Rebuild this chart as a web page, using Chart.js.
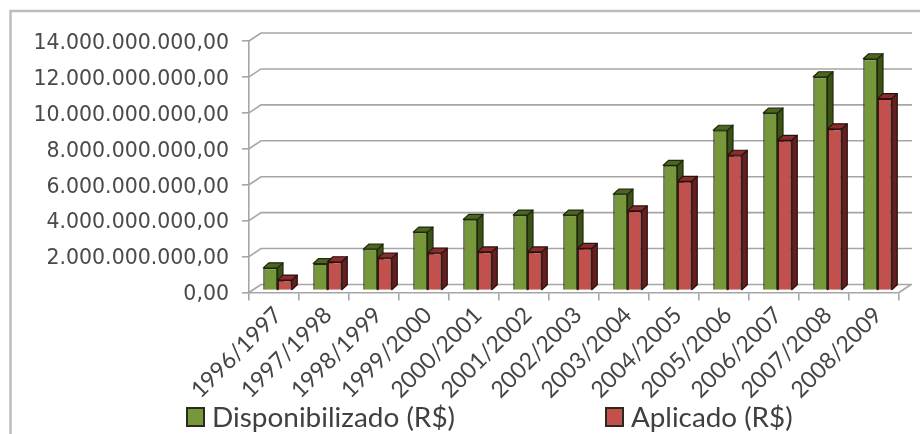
<!DOCTYPE html>
<html lang="pt-BR">
<head>
<meta charset="utf-8">
<title>Recursos disponibilizados e aplicados</title>
<script src="https://cdn.jsdelivr.net/npm/chart.js@4/dist/chart.umd.js"></script>
<style>
  html, body { margin: 0; padding: 0; background: #fff; }
  #wrap { position: relative; width: 920px; height: 434px; overflow: hidden; }
  canvas { display: block; }
  .key { position: absolute; top: 407px; height: 22px; white-space: nowrap; color: #404040;
         font: 27px "Lato", sans-serif; line-height: 20px; }
  .key i { position: absolute; left: 0; top: 0; width: 19px; height: 20px; box-sizing: border-box;
           border: 2px solid #2a2a1e; }
  .key span { position: absolute; left: 26px; top: 0; display: block; }
</style>
</head>
<body>
<div id="wrap">
  <canvas id="chart" width="920" height="434"></canvas>
</div>
<script>
// Safras e valores em reais
const safras = ["1996/1997", "1997/1998", "1998/1999", "1999/2000", "2000/2001", "2001/2002", "2002/2003",
                "2003/2004", "2004/2005", "2005/2006", "2006/2007", "2007/2008", "2008/2009"];
const disponibilizado = [1.26e9, 1.5e9, 2.3e9, 3.25e9, 3.96e9, 4.2e9, 4.2e9, 5.36e9, 6.97e9, 8.92e9, 9.88e9, 11.9e9, 12.9e9];
const aplicado = [0.58e9, 1.6e9, 1.8e9, 2.08e9, 2.15e9, 2.15e9, 2.34e9, 4.43e9, 6.08e9, 7.53e9, 8.36e9, 9.0e9, 10.68e9];

const formatoBR = v => v.toLocaleString("pt-BR", { minimumFractionDigits: 2, maximumFractionDigits: 2 });

// Profundidade da parede do fundo e das colunas
const WALL = { dx: 12, dy: 8 };
const COLUMN = { dx: 5.5, dy: 5 };
const SHIFT = { x: 3.5, y: -2 };
const GRID_COLOR = "#a6a6a6";

const paleta = [
  { face: "#76983a", side: "#3c5216", top: "#4c6620", line: "#1f2a0c" },
  { face: "#c2504c", side: "#65201e", top: "#8a2c2a", line: "#2c1010" }
];

// Moldura, parede do fundo e piso em perspectiva
const parede = {
  id: "parede",
  beforeDatasetsDraw(chart) {
    const { ctx, chartArea: a, scales: { y } } = chart;
    ctx.save();
    ctx.strokeStyle = "#bcbcbc";
    ctx.lineWidth = 2.5;
    ctx.beginPath();
    ctx.moveTo(10.5, chart.height);
    ctx.lineTo(10.5, 11);
    ctx.lineTo(chart.width, 11);
    ctx.stroke();

    ctx.strokeStyle = GRID_COLOR;
    ctx.lineWidth = 1.6;
    y.ticks.forEach(t => {
      const py = y.getPixelForValue(t.value);
      ctx.beginPath();
      ctx.moveTo(a.left, py);
      ctx.lineTo(a.left + WALL.dx, py - WALL.dy);
      ctx.lineTo(a.right + WALL.dx + 1, py - WALL.dy);
      ctx.stroke();
    });
    const base = y.getPixelForValue(0);
    ctx.beginPath();
    ctx.moveTo(a.right, base);
    ctx.lineTo(a.right + WALL.dx, base - WALL.dy);
    ctx.stroke();
    ctx.restore();
  },
  // As colunas são pintadas abaixo, por categoria, para que a vermelha cubra a lateral da verde
  beforeDatasetDraw() { return false; },
  afterDatasetsDraw(chart) {
    const ctx = chart.ctx;
    ctx.save();
    ctx.translate(SHIFT.x, SHIFT.y);
    safras.forEach((_, i) => {
      chart.data.datasets.forEach((ds, d) => {
        const bar = chart.getDatasetMeta(d).data[i];
        const { x, y, width } = bar.getProps(["x", "y", "width"], true);
        const { base } = bar.getProps(["base"], true);
        const cor = paleta[d];
        const l = x - width / 2, r = x + width / 2;
        ctx.lineWidth = 1.2;
        ctx.lineJoin = "round";
        ctx.strokeStyle = cor.line;
        ctx.fillStyle = cor.side;
        ctx.beginPath();
        ctx.moveTo(r, y);
        ctx.lineTo(r + COLUMN.dx, y - COLUMN.dy);
        ctx.lineTo(r + COLUMN.dx, base - COLUMN.dy);
        ctx.lineTo(r, base);
        ctx.closePath();
        ctx.fill();
        ctx.stroke();
        ctx.fillStyle = cor.top;
        ctx.beginPath();
        ctx.moveTo(l, y);
        ctx.lineTo(l + COLUMN.dx, y - COLUMN.dy);
        ctx.lineTo(r + COLUMN.dx, y - COLUMN.dy);
        ctx.lineTo(r, y);
        ctx.closePath();
        ctx.fill();
        ctx.stroke();
        bar.draw(ctx);
      });
    });
    ctx.restore();
  }
};

const grafico = new Chart(document.getElementById("chart"), {
  type: "bar",
  data: {
    labels: safras,
    datasets: [
      { label: "Disponibilizado (R$)", data: disponibilizado, backgroundColor: paleta[0].face,
        borderColor: paleta[0].line, borderWidth: 1.4 },
      { label: "Aplicado (R$)", data: aplicado, backgroundColor: paleta[1].face,
        borderColor: paleta[1].line, borderWidth: 1.4 }
    ]
  },
  options: {
    responsive: false,
    animation: false,
    layout: { padding: { left: 0, right: 21, top: 41, bottom: 0 } },
    datasets: { bar: { categoryPercentage: 0.57, barPercentage: 1 } },
    plugins: { legend: { display: false }, tooltip: { enabled: false } },
    scales: {
      x: {
        afterFit(s) { s.height = 141.5; },
        border: { color: GRID_COLOR, width: 1.6 },
        grid: { color: GRID_COLOR, lineWidth: 1.6, drawOnChartArea: false, tickLength: 8, offset: true },
        ticks: { color: "#454545", font: { family: "Lato", size: 23 }, minRotation: 45, maxRotation: 45,
                 padding: 1, labelOffset: 4, autoSkip: false }
      },
      y: {
        min: 0, max: 14e9,
        afterFit(s) { s.width = 249; },
        border: { color: GRID_COLOR, width: 1.6 },
        grid: { color: GRID_COLOR, lineWidth: 1.6, drawOnChartArea: false, tickLength: 7 },
        ticks: { stepSize: 2e9, color: "#4a4a4a", font: { family: "DejaVu Sans", size: 20.5 }, padding: 13,
                 labelOffset: 2.5, callback: formatoBR }
      }
    }
  },
  plugins: [parede]
});

// Legenda em HTML gerada a partir das séries do gráfico
const posicoes = [{ left: 186, stretch: 1.035 }, { left: 605, stretch: 1.03 }];
grafico.data.datasets.forEach((ds, i) => {
  const key = document.createElement("div");
  key.className = "key";
  key.style.left = posicoes[i].left + "px";
  const swatch = document.createElement("i");
  swatch.style.background = ds.backgroundColor;
  const text = document.createElement("span");
  text.textContent = ds.label;
  text.style.transform = "scaleX(" + posicoes[i].stretch + ")";
  text.style.transformOrigin = "left center";
  key.append(swatch, text);
  document.getElementById("wrap").append(key);
});
</script>
</body>
</html>
